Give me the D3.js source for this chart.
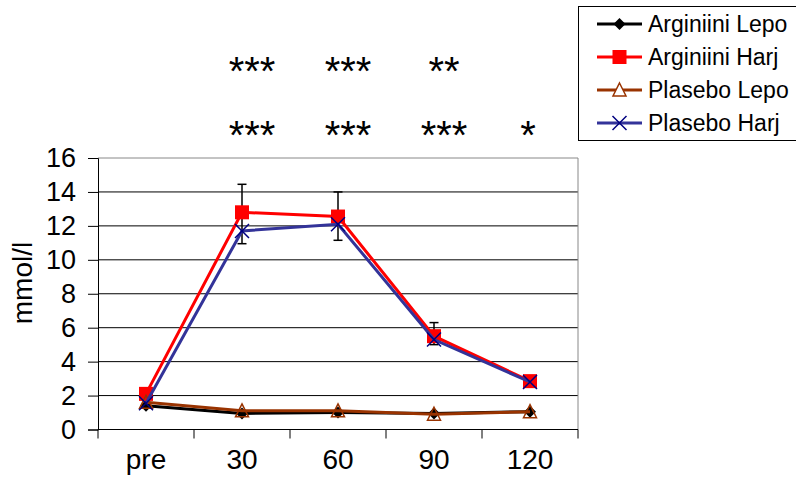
<!DOCTYPE html>
<html>
<head>
<meta charset="utf-8">
<script src="https://cdn.jsdelivr.net/npm/d3@7"></script>
<style>
  body { margin: 0; background: #fff; }
  svg { display: block; font-family: "Liberation Sans", Arial, sans-serif; }
</style>
</head>
<body>
<div id="chart"></div>
<script>
// categories and values
var categories = ["pre", "30", "60", "90", "120"];
var argLepo = [1.4, 0.95, 1.0, 0.95, 1.05];
var argHarj = [2.1, 12.8, 12.55, 5.5, 2.85];
var plaLepo = [1.6, 1.1, 1.1, 0.9, 1.05];
var plaHarj = [1.55, 11.7, 12.1, 5.3, 2.8];
// error bars (absolute ends), null where none drawn
var errHigh = [null, 14.45, 14.0, 6.3, null];
var errLow = [null, 10.95, 11.15, 5.0, null];
var yTicks = [0, 2, 4, 6, 8, 10, 12, 14, 16];
// significance marks above each time point
var starsTop = ["", "***", "***", "**", ""];
var starsBottom = ["", "***", "***", "***", "*"];

var series = [
  { name: "Arginiini Lepo", values: argLepo, color: "#000000", marker: "diamond" },
  { name: "Arginiini Harj", values: argHarj, color: "#ff0000", marker: "square" },
  { name: "Plasebo Lepo", values: plaLepo, color: "#993300", marker: "triangle" },
  { name: "Plasebo Harj", values: plaHarj, color: "#333399", marker: "cross" }
];

var svgWidth = 796, svgHeight = 478;
var margin = { top: 158, right: 218, bottom: 48.5, left: 98 };
var width = svgWidth - margin.left - margin.right;
var height = svgHeight - margin.top - margin.bottom;

var svg = d3.select("#chart").append("svg")
  .attr("width", svgWidth)
  .attr("height", svgHeight);

var chartGroup = svg.append("g")
  .attr("transform", `translate(${margin.left}, ${margin.top})`);

var xScale = d3.scaleBand().domain(categories).range([0, width]);
var yScale = d3.scaleLinear().domain([0, 16]).range([height, 0]);
var cx = d => xScale(d) + xScale.bandwidth() / 2;

// gridlines
chartGroup.selectAll(".grid")
  .data(yTicks.filter(t => t > 0))
  .enter()
  .append("line")
  .attr("x1", 0)
  .attr("x2", width)
  .attr("y1", d => yScale(d))
  .attr("y2", d => yScale(d))
  .attr("stroke", d => d === 16 ? "#888" : "#000")
  .attr("stroke-width", 1);

// right border of plot area
chartGroup.append("line")
  .attr("x1", width).attr("x2", width)
  .attr("y1", 0).attr("y2", height)
  .attr("stroke", "#888");

// y axis
var leftAxis = d3.axisLeft(yScale).tickValues(yTicks).tickSize(10).tickPadding(12);
var yAxis = chartGroup.append("g").call(leftAxis);
yAxis.select(".domain").attr("stroke", "#000");
yAxis.selectAll("text").attr("font-size", "27px").attr("fill", "#000")
  .attr("font-family", "Liberation Sans, Arial, sans-serif");

// x axis: ticks at category boundaries
var xAxisG = chartGroup.append("g").attr("transform", `translate(0, ${height})`);
xAxisG.append("line").attr("x1", 0).attr("x2", width).attr("stroke", "#000");
var bounds = categories.map(c => xScale(c)).concat([width]);
xAxisG.selectAll(".xtick")
  .data(bounds)
  .enter()
  .append("line")
  .attr("x1", d => d).attr("x2", d => d)
  .attr("y1", 0).attr("y2", 9)
  .attr("stroke", "#000");
xAxisG.selectAll(".xlabel")
  .data(categories)
  .enter()
  .append("text")
  .attr("x", d => cx(d))
  .attr("y", 39)
  .attr("text-anchor", "middle")
  .attr("font-size", "28px")
  .text(d => d);

// y label
svg.append("text")
  .attr("transform", "translate(32, 283) rotate(-90)")
  .attr("text-anchor", "middle")
  .attr("font-size", "28px")
  .text("mmol/l");

// error bars
var errData = categories.map((c, i) => ({ c: c, hi: errHigh[i], lo: errLow[i] }))
  .filter(d => d.hi !== null);
var errG = chartGroup.selectAll(".err").data(errData).enter().append("g");
errG.append("line")
  .attr("x1", d => cx(d.c)).attr("x2", d => cx(d.c))
  .attr("y1", d => yScale(d.hi)).attr("y2", d => yScale(d.lo))
  .attr("stroke", "#000").attr("stroke-width", 1.5);
[["hi"], ["lo"]].forEach(function(k) {
  errG.append("line")
    .attr("x1", d => cx(d.c) - 4.5).attr("x2", d => cx(d.c) + 4.5)
    .attr("y1", d => yScale(d[k])).attr("y2", d => yScale(d[k]))
    .attr("stroke", "#000").attr("stroke-width", 1.5);
});

function drawMarker(g, type, color, x, y, legend) {
  if (type === "diamond") {
    g.append("path").attr("d", `M${x},${y - 6}L${x + 6},${y}L${x},${y + 6}L${x - 6},${y}Z`)
      .attr("fill", "#000");
  } else if (type === "square") {
    g.append("rect").attr("x", x - 7).attr("y", y - 7).attr("width", 14).attr("height", 14)
      .attr("fill", "#ff0000");
  } else if (type === "triangle") {
    g.append("path").attr("d", `M${x},${y - 7}L${x + 6.5},${y + 6}L${x - 6.5},${y + 6}Z`)
      .attr("fill", legend ? "#fff" : "none").attr("stroke", color).attr("stroke-width", 1.5);
  } else {
    g.append("path").attr("d", `M${x - 7},${y - 7}L${x + 7},${y + 7}M${x - 7},${y + 7}L${x + 7},${y - 7}`)
      .attr("stroke", "#000080").attr("stroke-width", 1.5);
  }
}

var line = d3.line()
  .x((d, i) => cx(categories[i]))
  .y(d => yScale(d));

series.forEach(function(s) {
  var g = chartGroup.append("g");
  g.append("path")
    .datum(s.values)
    .attr("d", line)
    .attr("fill", "none")
    .attr("stroke", s.color)
    .attr("stroke-width", 3);
  s.values.forEach(function(v, i) {
    drawMarker(g, s.marker, s.color, cx(categories[i]), yScale(v), false);
  });
});

// significance stars
[[starsTop, 85], [starsBottom, 149]].forEach(function(row) {
  svg.selectAll(null)
    .data(row[0])
    .enter()
    .append("text")
    .attr("x", (d, i) => margin.left + cx(categories[i]) + (d.length > 1 ? 10 : -2))
    .attr("y", row[1])
    .attr("text-anchor", "middle")
    .attr("font-size", "40px")
    .text(d => d);
});

// legend
var legend = svg.append("g");
legend.append("rect")
  .attr("x", 578.5).attr("y", 6.5)
  .attr("width", 230).attr("height", 134)
  .attr("fill", "#fff").attr("stroke", "#000");
series.forEach(function(s, i) {
  var y = 24 + i * 33;
  legend.append("line")
    .attr("x1", 597).attr("x2", 642).attr("y1", y).attr("y2", y)
    .attr("stroke", s.color).attr("stroke-width", 3);
  drawMarker(legend, s.marker, s.color, 619.5, y, true);
  legend.append("text")
    .attr("x", 648).attr("y", y + 8)
    .attr("font-size", "23px")
    .text(s.name);
});
</script>
</body>
</html>
